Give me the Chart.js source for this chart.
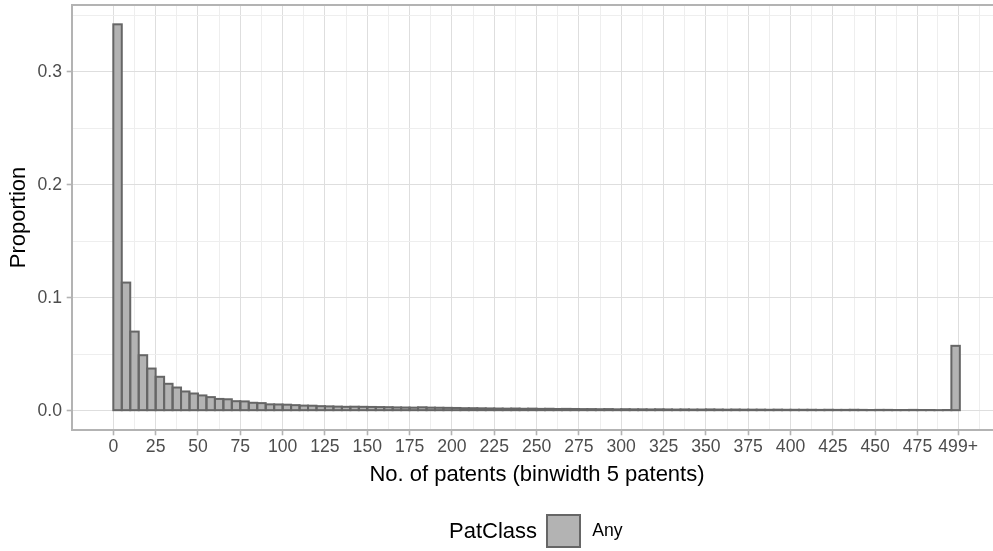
<!DOCTYPE html>
<html>
<head>
<meta charset="utf-8">
<script src="https://cdn.jsdelivr.net/npm/chart.js@4"></script>
<style>
  html, body { margin: 0; padding: 0; background: #fff; overflow: hidden; }
  #wrap { position: relative; width: 993px; height: 551px; overflow: hidden; }
  #legend {
    position: absolute; left: 449px; top: 513.5px; height: 34.6px;
    display: flex; align-items: center; white-space: nowrap;
    font-family: 'Liberation Sans', Arial, sans-serif; color: #000;
  }
  #legend .title { font-size: 22px; margin-right: 9px; }
  #legend .key {
    width: 30.6px; height: 30.6px; background: #b3b3b3;
    border: 2px solid #666666; margin-right: 11.5px;
  }
  #legend .label { font-size: 17.6px; }
</style>
</head>
<body>
<div id="wrap">
  <!-- the plot panel runs a few pixels past the right edge of the picture -->
  <canvas id="histChart" width="1002" height="551"></canvas>
  <div id="legend"><span class="title">PatClass</span><span class="key"></span><span class="label">Any</span></div>
</div>
<script>
const FONT = "'Liberation Sans', Arial, sans-serif";

const binWidth = 5;

// share of firms per 5-patent bin; the last bin is "499+"
const proportions = [
  0.3420, 0.1134, 0.0700, 0.0491, 0.0373, 0.0300, 0.0238, 0.0205, 0.0170, 0.0152,
  0.0135, 0.0120, 0.0104, 0.0101, 0.0084, 0.0082, 0.0070, 0.0067, 0.0056, 0.0055,
  0.0053, 0.0049, 0.0045, 0.0044, 0.0040, 0.0038, 0.0036, 0.0034, 0.0035, 0.0034,
  0.0033, 0.0032, 0.0031, 0.0029, 0.0028, 0.0027, 0.0030, 0.0027, 0.0026, 0.0025,
  0.0024, 0.0022, 0.0022, 0.0021, 0.0020, 0.0019, 0.0018, 0.0019, 0.0017, 0.0018,
  0.0016, 0.0017, 0.0015, 0.0016, 0.0015, 0.0014, 0.0014, 0.0013, 0.0014, 0.0012,
  0.0013, 0.0012, 0.0012, 0.0011, 0.0012, 0.0011, 0.0010, 0.0011, 0.0010, 0.0010,
  0.0011, 0.0010, 0.0009, 0.0010, 0.0009, 0.0009, 0.0009, 0.0008, 0.0009, 0.0008,
  0.0008, 0.0008, 0.0008, 0.0007, 0.0008, 0.0007, 0.0007, 0.0008, 0.0007, 0.0006,
  0.0007, 0.0007, 0.0006, 0.0006, 0.0007, 0.0006, 0.0006, 0.0005, 0.0006, 0.0574,
];

const xMajorTicks = [0, 25, 50, 75, 100, 125, 150, 175, 200, 225, 250, 275, 300,
  325, 350, 375, 400, 425, 450, 475, 499];
const xTickLabels = ['0', '25', '50', '75', '100', '125', '150', '175', '200', '225',
  '250', '275', '300', '325', '350', '375', '400', '425', '450', '475', '499+'];
const xMinorTicks = [12.5, 37.5, 62.5, 87.5, 112.5, 137.5, 162.5, 187.5, 212.5, 237.5,
  262.5, 287.5, 312.5, 337.5, 362.5, 387.5, 412.5, 437.5, 462.5, 487, 511.5];

const yMajorTicks = [0, 0.1, 0.2, 0.3];
const yTickLabels = ['0.0', '0.1', '0.2', '0.3'];
const yMinorTicks = [0.05, 0.15, 0.25, 0.35];

const points = proportions.map((p, i) => ({ x: i * binWidth + binWidth / 2, y: p }));

const setTicks = (major, minor) => (scale) => {
  const ticks = major.map((v) => ({ value: v }))
    .concat(minor.map((v) => ({ value: v, minor: true })));
  ticks.sort((a, b) => a.value - b.value);
  scale.ticks = ticks;
};

const labelFor = (major, labels) => (value) => {
  const i = major.findIndex((v) => Math.abs(v - value) < 1e-9);
  return i >= 0 ? labels[i] : '';
};

const isMinor = (c) => c.tick && c.tick.minor;

const gridOpts = {
  color: (c) => (isMinor(c) ? '#eeeeee' : '#dedede'),
  lineWidth: 1,
  tickColor: (c) => (isMinor(c) ? 'rgba(0,0,0,0)' : '#b3b3b3'),
  tickWidth: 1.6,
  tickLength: 5.3,
  offset: false,
};

// ggplot-style outlines (stroke centred on the bar edge) and the panel border
const outlinePlugin = {
  id: 'outline',
  afterDatasetsDraw(chart) {
    const { ctx } = chart;
    const meta = chart.getDatasetMeta(0);
    ctx.save();
    ctx.strokeStyle = '#666666';
    ctx.lineWidth = 2;
    meta.data.forEach((bar) => {
      const { x, y, base, width } = bar.getProps(['x', 'y', 'base', 'width'], true);
      ctx.strokeRect(x - width / 2, y, width, base - y);
    });
    ctx.restore();

    const { left, top, right, bottom } = chart.chartArea;
    ctx.save();
    ctx.strokeStyle = '#b3b3b3';
    ctx.lineWidth = 2;
    ctx.beginPath();
    ctx.moveTo(right + 2, top);
    ctx.lineTo(left, top);
    ctx.lineTo(left, bottom);
    ctx.lineTo(right + 2, bottom);
    ctx.stroke();
    ctx.restore();
  },
};

const ctx = document.getElementById('histChart').getContext('2d');
// eslint-disable-next-line no-undef, no-unused-vars
const chart = new Chart(ctx, {
  type: 'bar',
  data: {
    datasets: [{
      label: 'Any',
      data: points,
      backgroundColor: '#b3b3b3',
      borderWidth: 0,
      barPercentage: 1,
      categoryPercentage: 1,
      inflateAmount: 0,
    }],
  },
  options: {
    responsive: false,
    animation: false,
    layout: { padding: { top: 5, right: 0, bottom: 63, left: 0 } },
    plugins: { legend: { display: false }, tooltip: { enabled: false } },
    scales: {
      x: {
        type: 'linear',
        min: -24.4,
        max: 524.9,
        offset: false,
        bounds: 'data',
        grid: gridOpts,
        border: { display: false },
        afterBuildTicks: setTicks(xMajorTicks, xMinorTicks),
        afterFit: (scale) => {
          scale.height = 58;
          scale.paddingLeft = 0;
          scale.paddingRight = 0;
        },
        ticks: {
          autoSkip: false,
          maxRotation: 0,
          padding: 1.3,
          color: '#4d4d4d',
          font: { family: FONT, size: 17.6 },
          callback: labelFor(xMajorTicks, xTickLabels),
        },
        title: {
          display: true,
          text: 'No. of patents (binwidth 5 patents)',
          color: '#000',
          font: { family: FONT, size: 22 },
          padding: { top: 0, bottom: 0 },
        },
      },
      y: {
        type: 'linear',
        min: -0.0171,
        max: 0.3591,
        grid: gridOpts,
        border: { display: false },
        afterBuildTicks: setTicks(yMajorTicks, yMinorTicks),
        afterFit: (scale) => {
          scale.width = 72;
          scale.paddingTop = 0;
          scale.paddingBottom = 0;
        },
        ticks: {
          autoSkip: false,
          padding: 4.7,
          color: '#4d4d4d',
          font: { family: FONT, size: 17.6 },
          callback: labelFor(yMajorTicks, yTickLabels),
        },
        title: {
          display: true,
          text: 'Proportion',
          color: '#000',
          font: { family: FONT, size: 22 },
          padding: { top: 5.8, bottom: 0 },
        },
      },
    },
  },
  plugins: [outlinePlugin],
});
</script>
</body>
</html>
